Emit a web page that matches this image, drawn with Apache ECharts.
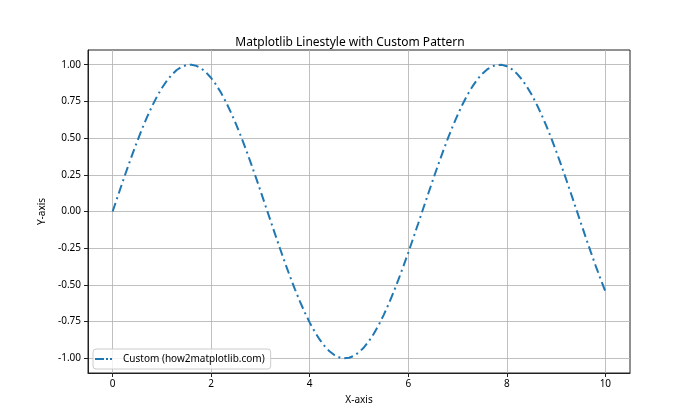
<!DOCTYPE html>
<html>
<head>
<meta charset="utf-8">
<script src="https://cdn.jsdelivr.net/npm/echarts@6/dist/echarts.min.js"></script>
<style>
  html, body { margin: 0; padding: 0; background: #fff; }
  #chart { width: 700px; height: 420px; }
</style>
</head>
<body>
<div id="chart"></div>
<script>
// x positions and values
const xVals = [
  0.0, 0.1, 0.2, 0.3, 0.4, 0.5, 0.6, 0.7, 0.8, 0.9,
  1.0, 1.1, 1.2, 1.3, 1.4, 1.5, 1.6, 1.7, 1.8, 1.9,
  2.0, 2.1, 2.2, 2.3, 2.4, 2.5, 2.6, 2.7, 2.8, 2.9,
  3.0, 3.1, 3.2, 3.3, 3.4, 3.5, 3.6, 3.7, 3.8, 3.9,
  4.0, 4.1, 4.2, 4.3, 4.4, 4.5, 4.6, 4.7, 4.8, 4.9,
  5.0, 5.1, 5.2, 5.3, 5.4, 5.5, 5.6, 5.7, 5.8, 5.9,
  6.0, 6.1, 6.2, 6.3, 6.4, 6.5, 6.6, 6.7, 6.8, 6.9,
  7.0, 7.1, 7.2, 7.3, 7.4, 7.5, 7.6, 7.7, 7.8, 7.9,
  8.0, 8.1, 8.2, 8.3, 8.4, 8.5, 8.6, 8.7, 8.8, 8.9,
  9.0, 9.1, 9.2, 9.3, 9.4, 9.5, 9.6, 9.7, 9.8, 9.9,
  10.0
]
const yVals = [
  0.0000, 0.0998, 0.1987, 0.2955, 0.3894, 0.4794, 0.5646, 0.6442, 0.7174, 0.7833,
  0.8415, 0.8912, 0.9320, 0.9636, 0.9854, 0.9975, 0.9996, 0.9917, 0.9738, 0.9463,
  0.9093, 0.8632, 0.8085, 0.7457, 0.6755, 0.5985, 0.5155, 0.4274, 0.3350, 0.2392,
  0.1411, 0.0416, -0.0584, -0.1577, -0.2555, -0.3508, -0.4425, -0.5298, -0.6119, -0.6878,
  -0.7568, -0.8183, -0.8716, -0.9162, -0.9516, -0.9775, -0.9937, -0.9999, -0.9962, -0.9825,
  -0.9589, -0.9258, -0.8835, -0.8323, -0.7728, -0.7055, -0.6313, -0.5507, -0.4646, -0.3739,
  -0.2794, -0.1822, -0.0831, 0.0168, 0.1165, 0.2151, 0.3115, 0.4048, 0.4941, 0.5784,
  0.6570, 0.7290, 0.7937, 0.8504, 0.8987, 0.9380, 0.9679, 0.9882, 0.9985, 0.9989,
  0.9894, 0.9699, 0.9407, 0.9022, 0.8546, 0.7985, 0.7344, 0.6630, 0.5849, 0.5010,
  0.4121, 0.3191, 0.2229, 0.1245, 0.0248, -0.0752, -0.1743, -0.2718, -0.3665, -0.4575,
  -0.5440
]
const xTicks = [0, 2, 4, 6, 8, 10]
const yTicks = [-1.0, -0.75, -0.5, -0.25, 0.0, 0.25, 0.5, 0.75, 1.0]
const seriesName = 'Custom (how2matplotlib.com)'

const font = '"Noto Sans", "DejaVu Sans", sans-serif'
const gridLine = { show: true, lineStyle: { color: '#b0b0b0', width: 0.8 } }
// dash-dot sample for the legend, last zero-width piece only pads the box
const legendIcon = 'path://M0,0H9V2H0Z M11,0H13V2H11Z M15,0H17V2H15Z M23,0H23V2H23Z'

let points = []
for (let i = 0; i < xVals.length; i++) {
  points.push([xVals[i], yVals[i]])
}

let myChart = echarts.init(document.getElementById('chart'), null, { renderer: 'canvas' })
let option = {
  animation: false,
  title: {
    text: 'Matplotlib Linestyle with Custom Pattern',
    left: 'center',
    top: 32,
    textStyle: { fontFamily: font, fontSize: 12, fontWeight: 'normal', color: '#000' }
  },
  legend: {
    left: 93,
    top: 349,
    orient: 'vertical',
    data: [{ name: seriesName, icon: legendIcon }],
    itemWidth: 23,
    itemHeight: 2,
    padding: [5, 6, 5, 2],
    borderColor: '#cccccc',
    borderWidth: 1,
    borderRadius: 3,
    backgroundColor: 'rgba(255,255,255,0.8)',
    textStyle: { fontFamily: font, fontSize: 10, color: '#000' }
  },
  grid: {
    left: 88,
    right: 70,
    top: 50,
    bottom: 47,
    show: true,
    borderColor: '#222',
    borderWidth: 1,
    backgroundColor: '#fff'
  },
  xAxis: {
    type: 'value',
    min: -0.5,
    max: 10.5,
    name: 'X-axis',
    nameLocation: 'middle',
    nameGap: 22,
    nameTextStyle: { fontFamily: font, fontSize: 10, color: '#000' },
    axisLine: { show: true, onZero: false, lineStyle: { color: '#222' } },
    axisTick: { show: true, length: 4, lineStyle: { color: '#222' }, customValues: xTicks },
    axisLabel: {
      fontFamily: font, fontSize: 10, color: '#000', margin: 6,
      customValues: xTicks,
      formatter: v => String(v)
    },
    splitLine: gridLine
  },
  yAxis: {
    type: 'value',
    min: -1.1,
    max: 1.1,
    name: 'Y-axis',
    nameLocation: 'middle',
    nameGap: 38,
    nameRotate: 90,
    nameTextStyle: { fontFamily: font, fontSize: 10, color: '#000' },
    axisLine: { show: true, onZero: false, lineStyle: { color: '#222' } },
    axisTick: { show: true, length: 4, lineStyle: { color: '#222' }, customValues: yTicks },
    axisLabel: {
      fontFamily: font, fontSize: 10, color: '#000', margin: 7,
      customValues: yTicks,
      formatter: v => v.toFixed(2)
    },
    splitLine: gridLine
  },
  series: [
    {
      name: seriesName,
      type: 'line',
      data: points,
      showSymbol: false,
      symbol: 'none',
      color: '#1f77b4',
      lineStyle: {
        color: '#1f77b4',
        width: 2,
        type: [9, 4, 2, 4],
        cap: 'butt'
      }
    }
  ]
}
myChart.setOption(option)
</script>
</body>
</html>
